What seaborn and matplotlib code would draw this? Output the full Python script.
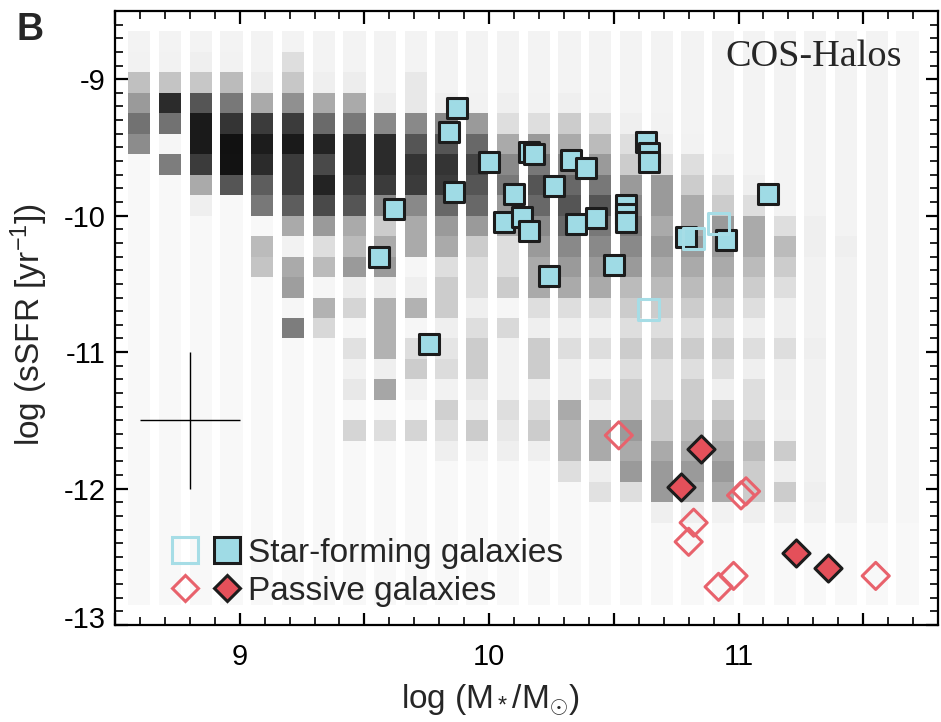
import numpy as np
import matplotlib
matplotlib.use("Agg")
import matplotlib.pyplot as plt
import seaborn as sns
from matplotlib.colors import LinearSegmentedColormap
from matplotlib.lines import Line2D
from matplotlib.legend_handler import HandlerTuple
from matplotlib.ticker import MultipleLocator, FuncFormatter
from matplotlib.transforms import ScaledTranslation

# ---------------------------------------------------------------------------
# Background galaxy population: shading level (0-100) of each cell.
# One list per stellar-mass column (low to high mass), each running from the
# highest sSFR row (top) down to the lowest one.
# ---------------------------------------------------------------------------
density_columns = [
    [2, 3, 24, 40, 57, 46, 0, 0, 0, 0, 0, 0, 0, 0, 0, 0, 0, 0, 0, 0, 0, 0, 0, 0, 0, 0, 0, 0],
    [2, 3, 22, 87, 57, 1, 52, 0, 0, 0, 0, 0, 0, 0, 0, 0, 0, 0, 0, 0, 0, 0, 0, 0, 0, 0, 0, 0],
    [2, 4, 21, 69, 94, 94, 80, 33, 4, 0, 0, 0, 0, 0, 0, 0, 0, 0, 0, 0, 0, 0, 0, 0, 0, 0, 0, 0],
    [2, 3, 26, 54, 83, 98, 97, 69, 0, 0, 0, 0, 0, 0, 0, 0, 0, 0, 0, 0, 0, 0, 0, 0, 0, 0, 0, 0],
    [2, 2, 5, 33, 80, 93, 87, 66, 54, 0, 26, 22, 0, 0, 0, 0, 0, 0, 0, 0, 0, 0, 0, 0, 0, 0, 0, 0],
    [2, 11, 21, 44, 80, 94, 80, 80, 66, 33, 3, 33, 38, 1, 52, 0, 0, 0, 0, 0, 0, 0, 0, 0, 0, 0, 0, 0],
    [2, 2, 4, 33, 60, 90, 74, 90, 74, 40, 11, 26, 1, 30, 14, 0, 0, 0, 0, 0, 0, 0, 0, 0, 0, 0, 0, 0],
    [2, 2, 5, 33, 54, 87, 87, 80, 69, 33, 26, 40, 5, 15, 1, 10, 3, 7, 0, 15, 0, 0, 0, 0, 0, 0, 0, 0],
    [2, 2, 2, 5, 47, 87, 87, 80, 47, 19, 33, 40, 5, 30, 30, 30, 4, 35, 0, 11, 0, 0, 0, 0, 0, 0, 0, 0],
    [2, 2, 7, 7, 47, 69, 83, 80, 47, 33, 33, 1, 4, 30, 1, 11, 19, 3, 0, 15, 0, 0, 0, 0, 0, 0, 0, 0],
    [2, 2, 2, 4, 47, 69, 83, 80, 61, 40, 33, 11, 19, 19, 4, 8, 12, 3, 17, 10, 4, 0, 0, 0, 0, 0, 0, 0],
    [2, 2, 2, 3, 40, 61, 76, 69, 61, 40, 19, 11, 11, 4, 11, 19, 19, 7, 4, 19, 3, 0, 0, 0, 0, 0, 0, 0],
    [2, 2, 2, 4, 11, 33, 47, 54, 40, 33, 11, 11, 19, 1, 13, 3, 3, 3, 11, 7, 4, 0, 0, 0, 0, 0, 0, 0],
    [2, 2, 2, 3, 11, 40, 54, 69, 61, 47, 40, 33, 33, 11, 4, 19, 19, 4, 11, 19, 4, 0, 0, 0, 0, 0, 0, 0],
    [2, 2, 2, 4, 19, 33, 47, 61, 69, 61, 47, 40, 33, 11, 4, 11, 4, 4, 33, 26, 26, 11, 0, 0, 0, 0, 0, 0],
    [2, 2, 2, 3, 11, 26, 40, 54, 69, 54, 47, 40, 33, 11, 4, 11, 3, 11, 4, 33, 33, 4, 10, 0, 0, 0, 0, 0],
    [2, 2, 2, 2, 4, 11, 19, 40, 47, 54, 47, 40, 26, 19, 11, 19, 11, 19, 19, 40, 33, 40, 11, 0, 0, 0, 0, 0],
    [2, 2, 2, 2, 3, 4, 11, 40, 40, 33, 40, 33, 26, 19, 11, 19, 11, 11, 19, 19, 33, 40, 40, 4, 0, 0, 0, 0],
    [2, 2, 2, 2, 2, 3, 11, 19, 33, 33, 40, 33, 26, 19, 11, 19, 11, 19, 19, 26, 33, 40, 33, 4, 0, 0, 0, 0],
    [2, 2, 2, 2, 2, 2, 4, 11, 19, 40, 40, 33, 26, 19, 11, 19, 11, 4, 19, 26, 33, 40, 33, 3, 0, 0, 0, 0],
    [2, 2, 2, 2, 2, 2, 2, 4, 11, 33, 33, 26, 19, 11, 4, 11, 4, 11, 11, 19, 26, 19, 19, 4, 0, 0, 0, 0],
    [2, 2, 2, 2, 2, 2, 2, 2, 2, 11, 26, 19, 11, 4, 4, 11, 4, 4, 3, 4, 19, 4, 19, 4, 0, 0, 0, 0],
    [2, 2, 2, 2, 2, 2, 2, 2, 2, 4, 4, 3, 3, 3, 3, 4, 3, 3, 3, 3, 3, 3, 4, 3, 0, 0, 0, 0],
    [2, 2, 2, 2, 2, 2, 2, 2, 2, 2, 4, 3, 3, 3, 3, 3, 3, 3, 3, 3, 3, 3, 3, 3, 0, 0, 0, 0],
    [2, 2, 2, 2, 2, 2, 2, 2, 2, 2, 2, 2, 2, 2, 2, 2, 2, 2, 2, 2, 2, 2, 2, 2, 0, 0, 0, 0],
    [1, 1, 1, 1, 1, 1, 1, 1, 1, 1, 1, 1, 1, 1, 1, 1, 1, 1, 1, 1, 1, 1, 1, 1, 0, 0, 0, 0],
]

# binning of the background population
mass_bin_start = 8.553      # left edge of the first mass column
mass_bin_step = 0.1232      # column pitch (dex)
mass_bin_width = 0.089      # drawn column width (dex)
ssfr_bin_top = -8.65        # upper edge of the first sSFR row
ssfr_bin_step = 0.15        # row height (dex)

# COS-Halos star-forming galaxies (detected / open symbols)
sf_mass = [9.87, 9.84, 9.86, 9.62, 9.56, 9.76, 10.00, 10.16, 10.18, 10.33,
           10.39, 10.63, 10.64, 10.64, 10.26, 10.10, 11.12, 10.55, 10.55, 10.55,
           10.06, 10.13, 10.16, 10.35, 10.43, 10.24, 10.50, 10.79, 10.95]
sf_ssfr = [-9.21, -9.39, -9.83, -9.95, -10.30, -10.94, -9.61, -9.53, -9.55, -9.59,
           -9.65, -9.46, -9.54, -9.61, -9.78, -9.84, -9.84, -9.92, -9.99, -10.05,
           -10.05, -10.01, -10.11, -10.06, -10.02, -10.44, -10.36, -10.16, -10.18]
sf_open_mass = [10.92, 10.82, 10.64]
sf_open_ssfr = [-10.06, -10.17, -10.69]

# COS-Halos passive galaxies
pas_mass = [10.85, 10.77, 11.23, 11.36]
pas_ssfr = [-11.71, -11.99, -12.47, -12.58]
pas_open_mass = [10.52, 11.01, 11.03, 10.82, 10.80, 10.92, 10.98, 11.55]
pas_open_ssfr = [-11.61, -12.05, -12.02, -12.25, -12.39, -12.72, -12.64, -12.64]

# typical uncertainty
err_mass, err_ssfr = 8.8, -11.5
err_dmass, err_dssfr = 0.2, 0.5

legend_labels = ["Star-forming galaxies", "Passive galaxies"]
panel_letter = "B"
survey_name = "COS-Halos"

# ---------------------------------------------------------------------------
sns.set_theme(style="ticks")
plt.rcParams["font.family"] = ["Liberation Sans", "DejaVu Sans"]
plt.rcParams["axes.unicode_minus"] = False
plt.rcParams["mathtext.fontset"] = "custom"
plt.rcParams["mathtext.rm"] = "Liberation Sans"
plt.rcParams["mathtext.it"] = "Liberation Sans:italic"
plt.rcParams["mathtext.sf"] = "Liberation Sans"

CYAN = "#9fdbe5"
CYAN_EDGE = "#a6dde6"
RED = "#e4505a"
RED_EDGE = "#e8626c"
INK = "#1c1c1c"

fig = plt.figure(figsize=(9.41, 7.22), dpi=100)
ax = fig.add_axes([0.1222, 0.1343, 0.8747, 0.8505])

# --- background 2D histogram (columns separated by white gaps) -------------
n_col = len(density_columns)
n_row = len(density_columns[0])
lefts = mass_bin_start + mass_bin_step * np.arange(n_col)
x_edges = np.ravel(np.column_stack([lefts, lefts + mass_bin_width]))
y_edges = ssfr_bin_top - ssfr_bin_step * np.arange(n_row + 1)
grid = np.full((n_row, 2 * n_col - 1), np.nan)
grid[:, ::2] = np.array(density_columns, dtype=float).T
grid = np.ma.masked_invalid(grid)
gray_map = LinearSegmentedColormap.from_list("cellgray", ["#f8f8f8", "#0c0c0c"])
ax.pcolormesh(x_edges, y_edges, grid, cmap=gray_map, vmin=0, vmax=100,
              shading="flat", edgecolors="none", antialiased=False, zorder=1)

# --- error cross ------------------------------------------------------------
ax.errorbar([err_mass], [err_ssfr], xerr=[err_dmass], yerr=[err_dssfr],
            fmt="none", ecolor="black", elinewidth=1.0, capsize=0, zorder=2)

# --- galaxies ---------------------------------------------------------------
sq_s, dm_s = 225, 190
sns.scatterplot(x=sf_mass, y=sf_ssfr, marker="s", s=sq_s, color=CYAN,
                edgecolor=INK, linewidth=2.2, ax=ax, zorder=3)
sns.scatterplot(x=sf_open_mass, y=sf_open_ssfr, marker="s", s=sq_s,
                facecolor="none", edgecolor=CYAN_EDGE, linewidth=2.2, ax=ax, zorder=4)
sns.scatterplot(x=pas_open_mass, y=pas_open_ssfr, marker="D", s=dm_s,
                facecolor="none", edgecolor=RED_EDGE, linewidth=2.2, ax=ax, zorder=3)
sns.scatterplot(x=pas_mass, y=pas_ssfr, marker="D", s=dm_s, color=RED,
                edgecolor=INK, linewidth=2.2, ax=ax, zorder=4)

# --- axes -------------------------------------------------------------------
ax.set_xlim(8.5, 11.8)
ax.set_ylim(-13.0, -8.5)
ax.xaxis.set_major_locator(MultipleLocator(0.5))
ax.xaxis.set_minor_locator(MultipleLocator(0.1))
ax.xaxis.set_major_formatter(FuncFormatter(
    lambda v, p: f"{v:.0f}" if abs(v - round(v)) < 1e-6 else ""))
ax.yaxis.set_major_locator(MultipleLocator(1))
ax.yaxis.set_minor_locator(MultipleLocator(0.1))
ax.yaxis.set_major_formatter(FuncFormatter(lambda v, p: f"{v:.0f}"))
ax.tick_params(which="both", direction="in", top=True, right=True, colors="black")
ax.tick_params(which="major", length=9, width=1.6, labelsize=21)
ax.tick_params(which="minor", length=6, width=1.2)
ax.tick_params(axis="x", which="major", pad=13)
ax.tick_params(axis="y", which="major", pad=7)
for sp in ax.spines.values():
    sp.set_linewidth(1.6)
    sp.set_color("black")

ax.set_xlabel(r"log (M$_*$/M$_{\odot}$)", fontsize=24)
ax.set_ylabel(r"log (sSFR [yr$^{-1}$])", fontsize=24)
ax.xaxis.set_label_coords(0.456, -0.094)
ax.yaxis.set_label_coords(-0.079, 0.489)

ax.text(0.956, 0.910, survey_name, transform=ax.transAxes, ha="right",
        va="baseline", fontsize=27.5, family="Liberation Serif", zorder=6)
fig.text(0.018, 0.9446, panel_letter, ha="left", va="baseline",
         fontsize=27, fontweight="bold")

# --- legend -----------------------------------------------------------------
h_sf_open = Line2D([], [], ls="none", marker="s", markersize=18.5,
                   markerfacecolor="none", markeredgecolor=CYAN_EDGE, markeredgewidth=2.2)
h_sf = Line2D([], [], ls="none", marker="s", markersize=18.5,
              markerfacecolor=CYAN, markeredgecolor=INK, markeredgewidth=2.2)
h_pas_open = Line2D([], [], ls="none", marker="D", markersize=13.7,
                    markerfacecolor="none", markeredgecolor=RED_EDGE, markeredgewidth=2.2)
h_pas = Line2D([], [], ls="none", marker="D", markersize=13.7,
               markerfacecolor=RED, markeredgecolor=INK, markeredgewidth=2.2)
ax.legend([(h_sf_open, h_sf), (h_pas_open, h_pas)], legend_labels,
          handler_map={tuple: HandlerTuple(ndivide=None, pad=0)},
          loc="lower left", bbox_to_anchor=(0.060, 0.030), frameon=False,
          fontsize=24, handlelength=2.5, handletextpad=0.0, labelspacing=0.2,
          borderpad=0, borderaxespad=0)

# lift the bottom sSFR label clear of the mass axis
fig.canvas.draw()
for tick in ax.yaxis.get_major_ticks():
    if abs(tick.get_loc() + 13.0) < 1e-6:
        tick.label1.set_transform(tick.label1.get_transform()
                                  + ScaledTranslation(0, 8 / 100, fig.dpi_scale_trans))

fig.savefig("out.png", dpi=100)
